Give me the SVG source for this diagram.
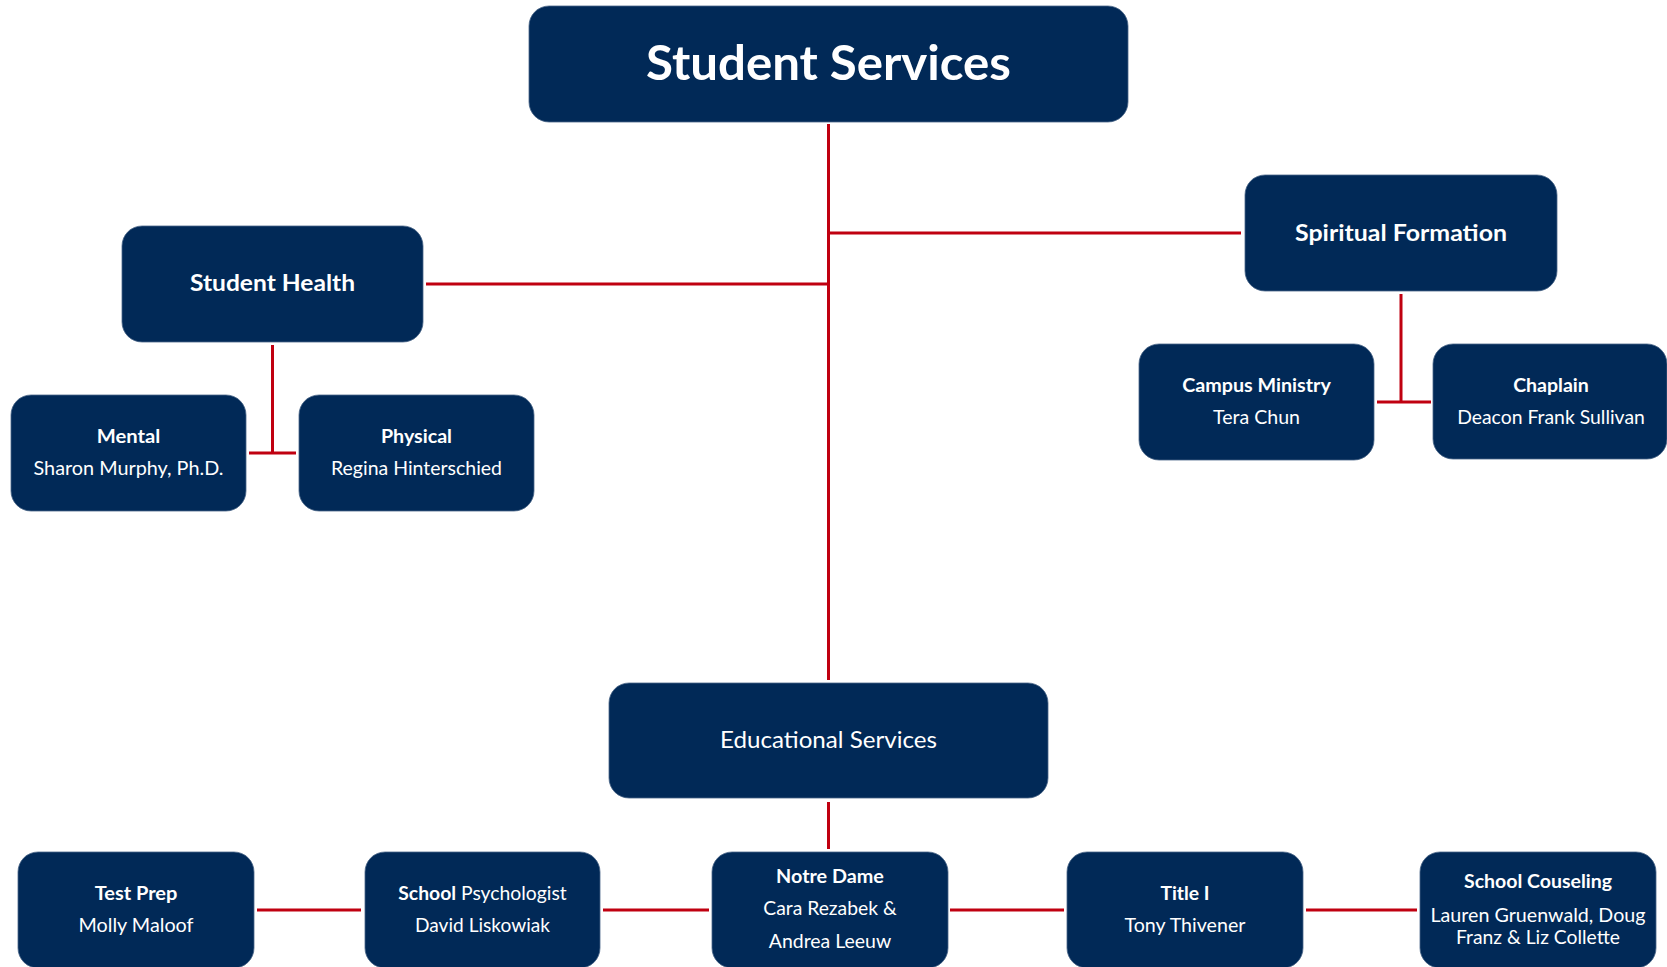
<svg xmlns="http://www.w3.org/2000/svg" width="1667" height="967" viewBox="0 0 1667 967">
<style>
.box{fill:#012957;stroke:#4a6688;stroke-width:0.8}
.t{fill:#ffffff;font-family:Lato,"Open Sans","Liberation Sans",sans-serif;text-anchor:middle}
.b{font-weight:700}
.r{font-weight:400}
.s{font-size:19px}
.m{font-size:23.5px}
.c{stroke:#C00010;stroke-width:3;fill:none}
</style>
<rect width="1667" height="967" fill="#ffffff"/>
<g id="connectors">
<path class="c" d="M828.5 124V680"/>
<path class="c" d="M426 284H828.5"/>
<path class="c" d="M828.5 233H1241"/>
<path class="c" d="M272.5 345V453M249 453H296"/>
<path class="c" d="M1401 294V402M1377 402H1431"/>
<path class="c" d="M828.5 802V849"/>
<path class="c" d="M257 910H361M603 910H709M950 910H1064M1306 910H1417"/>
</g>
<g id="student-services">
<rect class="box" x="529" y="6" width="599" height="116" rx="20"/>
<text class="t b" x="828.5" y="80" font-size="48" textLength="365" lengthAdjust="spacingAndGlyphs">Student Services</text>
</g>
<g id="student-health">
<rect class="box" x="122" y="226" width="301" height="116" rx="20"/>
<text class="t b m" x="272.5" y="291" textLength="165" lengthAdjust="spacingAndGlyphs">Student Health</text>
</g>
<g id="spiritual-formation">
<rect class="box" x="1245" y="175" width="312" height="116" rx="20"/>
<text class="t b m" x="1401" y="241" textLength="212" lengthAdjust="spacingAndGlyphs">Spiritual Formation</text>
</g>
<g id="mental">
<rect class="box" x="11" y="395" width="235" height="116" rx="20"/>
<text class="t b s" x="128.5" y="443" textLength="63.5" lengthAdjust="spacingAndGlyphs">Mental</text>
<text class="t r s" x="128.5" y="475" textLength="190" lengthAdjust="spacingAndGlyphs">Sharon Murphy, Ph.D.</text>
</g>
<g id="physical">
<rect class="box" x="299" y="395" width="235" height="116" rx="20"/>
<text class="t b s" x="416.5" y="443" textLength="71" lengthAdjust="spacingAndGlyphs">Physical</text>
<text class="t r s" x="416.5" y="475" textLength="171" lengthAdjust="spacingAndGlyphs">Regina Hinterschied</text>
</g>
<g id="campus-ministry">
<rect class="box" x="1139" y="344" width="235" height="116" rx="20"/>
<text class="t b s" x="1256.5" y="392" textLength="148.6" lengthAdjust="spacingAndGlyphs">Campus Ministry</text>
<text class="t r s" x="1256.5" y="424" textLength="87" lengthAdjust="spacingAndGlyphs">Tera Chun</text>
</g>
<g id="chaplain">
<rect class="box" x="1433" y="344" width="234" height="115" rx="20"/>
<text class="t b s" x="1551" y="392" textLength="75.7" lengthAdjust="spacingAndGlyphs">Chaplain</text>
<text class="t r s" x="1551" y="424" textLength="187.7" lengthAdjust="spacingAndGlyphs">Deacon Frank Sullivan</text>
</g>
<g id="educational-services">
<rect class="box" x="609" y="683" width="439" height="115" rx="20"/>
<text class="t r m" x="828.5" y="748" textLength="217" lengthAdjust="spacingAndGlyphs">Educational Services</text>
</g>
<g id="test-prep">
<rect class="box" x="18" y="852" width="236" height="116" rx="20"/>
<text class="t b s" x="136" y="900" textLength="82.7" lengthAdjust="spacingAndGlyphs">Test Prep</text>
<text class="t r s" x="136" y="932" textLength="115" lengthAdjust="spacingAndGlyphs">Molly Maloof</text>
</g>
<g id="school-psychologist">
<rect class="box" x="365" y="852" width="235" height="116" rx="20"/>
<text class="t s" x="482.5" y="900" textLength="168.4" lengthAdjust="spacingAndGlyphs"><tspan class="b">School</tspan><tspan class="r"> Psychologist</tspan></text>
<text class="t r s" x="482.5" y="932" textLength="135" lengthAdjust="spacingAndGlyphs">David Liskowiak</text>
</g>
<g id="notre-dame">
<rect class="box" x="712" y="852" width="236" height="116" rx="20"/>
<text class="t b s" x="830" y="883" textLength="107.8" lengthAdjust="spacingAndGlyphs">Notre Dame</text>
<text class="t r s" x="830" y="915" textLength="133.5" lengthAdjust="spacingAndGlyphs">Cara Rezabek &amp;</text>
<text class="t r s" x="830" y="948" textLength="122.5" lengthAdjust="spacingAndGlyphs">Andrea Leeuw</text>
</g>
<g id="title-i">
<rect class="box" x="1067" y="852" width="236" height="116" rx="20"/>
<text class="t b s" x="1185" y="900" textLength="49" lengthAdjust="spacingAndGlyphs">Title I</text>
<text class="t r s" x="1185" y="932" textLength="121" lengthAdjust="spacingAndGlyphs">Tony Thivener</text>
</g>
<g id="school-counseling">
<rect class="box" x="1420" y="852" width="236" height="116" rx="20"/>
<text class="t b s" x="1538" y="888" textLength="148" lengthAdjust="spacingAndGlyphs">School Couseling</text>
<text class="t r s" x="1538" y="922" textLength="215" lengthAdjust="spacingAndGlyphs">Lauren Gruenwald, Doug</text>
<text class="t r s" x="1538" y="944" textLength="164" lengthAdjust="spacingAndGlyphs">Franz &amp; Liz Collette</text>
</g>
</svg>
